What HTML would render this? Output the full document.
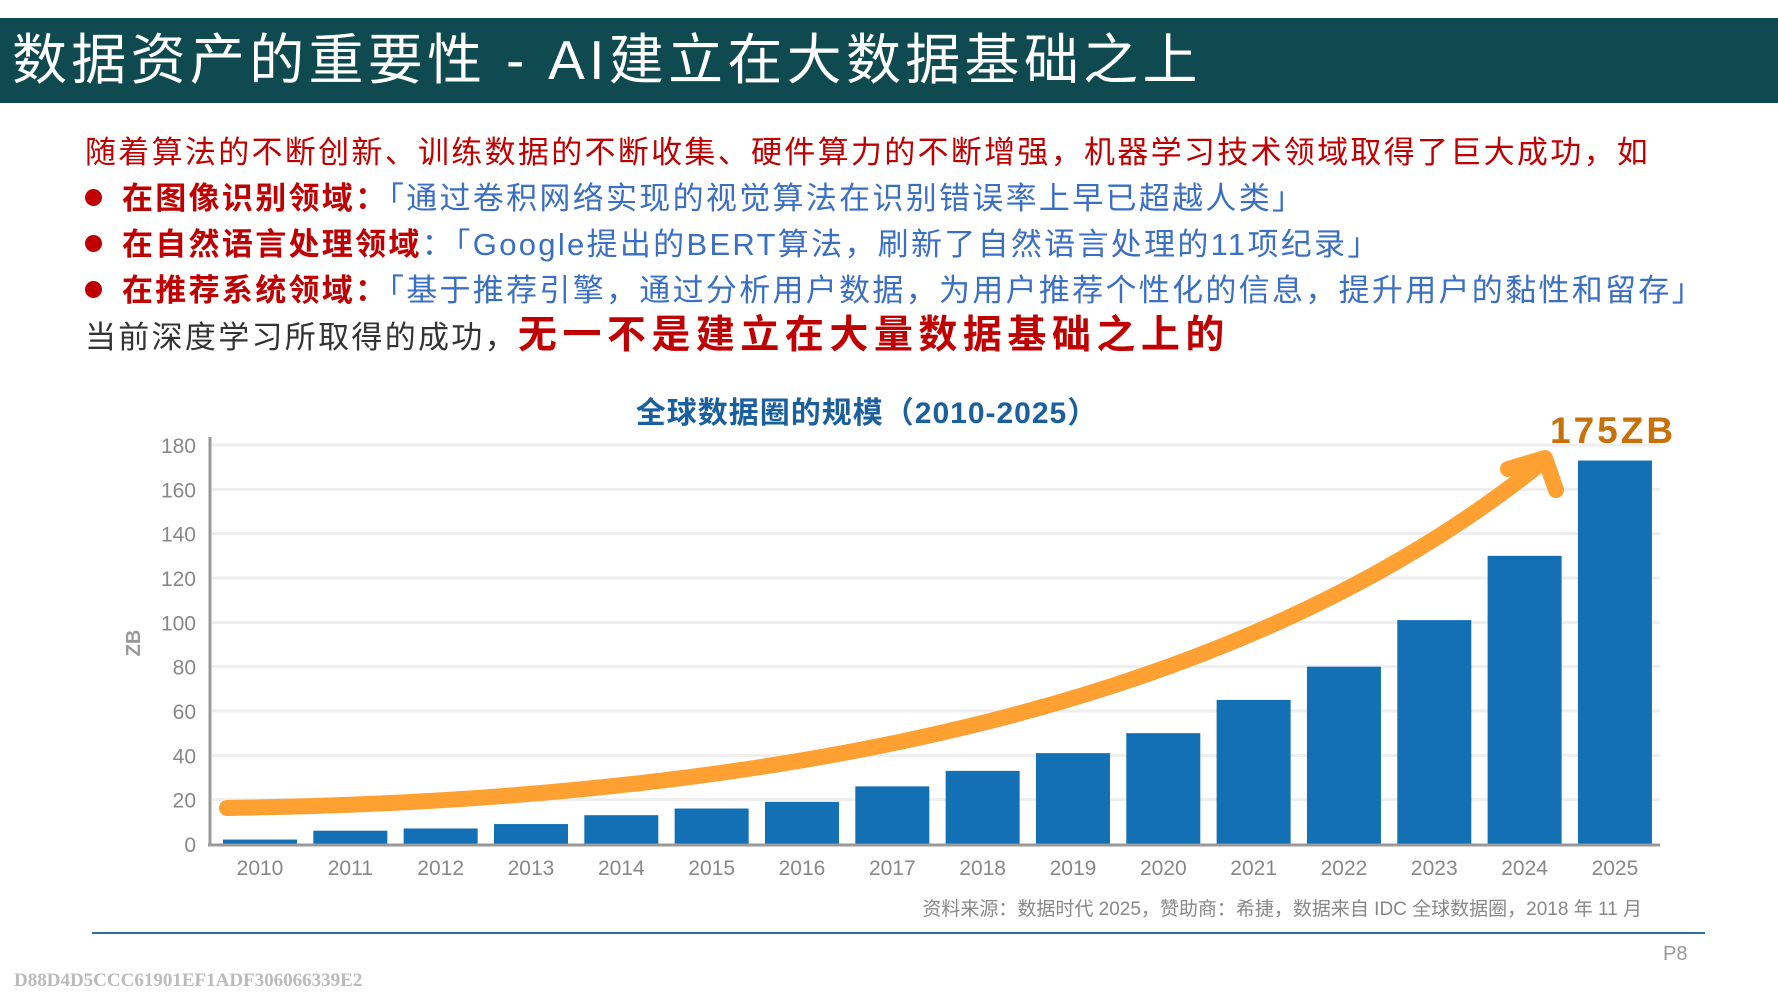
<!DOCTYPE html>
<html><head><meta charset="utf-8"><style>
body{margin:0;width:1778px;height:1000px;background:#fff;position:relative;overflow:hidden;font-family:"Liberation Sans","Noto Sans CJK SC",sans-serif}
.a{position:absolute;white-space:nowrap}
.t{font-size:31px;line-height:1;letter-spacing:2.3px}
.r{color:#c00000}.b{color:#3a6fc4}
.dot{display:inline-block;width:17px;height:17px;border-radius:50%;background:#c00000;margin-right:20px;vertical-align:middle;position:relative;top:-3px}
</style></head><body>
<div class="a" style="left:0;top:18px;width:1778px;height:85px;background:#0e4a50"></div>
<div class="a" style="left:12px;top:28px;font-size:55px;letter-spacing:4.3px;color:#fff;line-height:64px">数据资产的重要性 - AI建立在大数据基础之上</div>
<div class="a t r" style="left:85px;top:137px">随着算法的不断创新、训练数据的不断收集、硬件算力的不断增强，机器学习技术领域取得了巨大成功，如</div>
<div class="a t" style="left:85px;top:183px"><span class="dot"></span><b class="r">在图像识别领域：</b><span class="b">「通过卷积网络实现的视觉算法在识别错误率上早已超越人类」</span></div>
<div class="a t" style="left:85px;top:229px"><span class="dot"></span><b class="r">在自然语言处理领域</b><span class="b">：「Google提出的BERT算法，刷新了自然语言处理的11项纪录」</span></div>
<div class="a t" style="left:85px;top:275px"><span class="dot"></span><b class="r">在推荐系统领域：</b><span class="b">「基于推荐引擎，通过分析用户数据，为用户推荐个性化的信息，提升用户的黏性和留存」</span></div>
<div class="a" style="left:85px;top:316px;font-size:31px;letter-spacing:2.3px;color:#333;line-height:40px">当前深度学习所取得的成功，<b style="color:#c00000;font-size:39px;letter-spacing:5.5px">无一不是建立在大量数据基础之上的</b></div>
<svg class="a" style="left:0;top:0" width="1778" height="1000">
<text x="867" y="423" text-anchor="middle" font-size="30" font-weight="bold" fill="#1a5f9e" letter-spacing="1">全球数据圈的规模（2010-2025）</text>
<g id="grid"></g><g id="bars"></g><g id="xl"></g>
<line x1="210" y1="437" x2="210" y2="845" stroke="#999" stroke-width="3"/>
<line x1="208" y1="845" x2="1660" y2="845" stroke="#999" stroke-width="3"/>
<text x="140" y="643" transform="rotate(-90 140 643)" text-anchor="middle" font-size="20" font-weight="bold" fill="#999">ZB</text>
<g fill="none" stroke="#ffa033" stroke-width="16" stroke-linecap="round" stroke-linejoin="round">
<path d="M227,808 C800,800 1250,700 1545,460"/><path d="M1508,469 L1545,458 L1556,490"/></g>
<text x="1550" y="443" font-size="37" font-weight="bold" fill="#c8700a" letter-spacing="3">175ZB</text>
<text x="1642" y="915" text-anchor="end" font-size="19" fill="#888">资料来源：数据时代 2025，赞助商：希捷，数据来自 IDC 全球数据圈，2018 年 11 月</text>
<line x1="92" y1="933" x2="1705" y2="933" stroke="#2e6ca4" stroke-width="2"/>
<text x="1663" y="960" font-size="20" fill="#999">P8</text>
<text x="14" y="986" font-size="19" font-weight="bold" fill="#bbb" font-family="Liberation Serif,serif">D88D4D5CCC61901EF1ADF306066339E2</text>
</svg>
<script>
const years=["2010","2011","2012","2013","2014","2015","2016","2017","2018","2019","2020","2021","2022","2023","2024","2025"];
const values=[2,6,7,9,13,16,19,26,33,41,50,65,80,101,130,173];
const yTicks=[0,20,40,60,80,100,120,140,160,180];
const NS="http://www.w3.org/2000/svg";
const y=v=>844-v/180*399;
const x=i=>260+i*90.33;
function mk(t,a,p){const e=document.createElementNS(NS,t);for(const k in a)e.setAttribute(k,a[k]);document.getElementById(p).appendChild(e);return e;}
yTicks.forEach(v=>{
 if(v>0){const l=mk('line',{x1:212,x2:1660,y1:y(v),y2:y(v),stroke:'#eee','stroke-width':3},'grid');
 
 }
 const t=mk('text',{x:196,y:y(v)+8,'text-anchor':'end','font-size':21,fill:'#888'},'grid');t.textContent=v;
 
 
});
years.forEach((yr,i)=>{
 const r=mk('rect',{x:x(i)-37,y:y(values[i]),width:74,height:844-y(values[i]),fill:'#1470b4'},'bars');
 
 
 const t=mk('text',{x:x(i),y:875,'text-anchor':'middle','font-size':21,fill:'#888'},'xl');t.textContent=yr;
 
 
});
</script>
</body></html>
